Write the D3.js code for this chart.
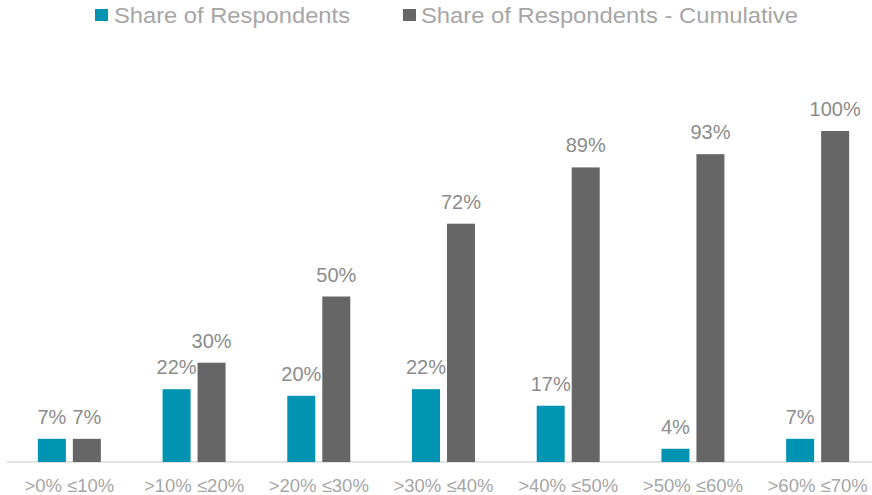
<!DOCTYPE html>
<html><head><meta charset="utf-8">
<script src="https://cdn.jsdelivr.net/npm/d3@7"></script>
<style>body{margin:0;background:#fff}svg{display:block}text{font-family:"Liberation Sans",Arial,sans-serif}</style>
</head><body>
<svg id="chart" width="872" height="495"></svg>
<script>
const categories = [">0% ≤10%", ">10% ≤20%", ">20% ≤30%", ">30% ≤40%", ">40% ≤50%", ">50% ≤60%", ">60% ≤70%"];
const shareValues = [7, 22, 20, 22, 17, 4, 7];
const cumulativeValues = [7, 30, 50, 72, 89, 93, 100];
const seriesNames = ["Share of Respondents", "Share of Respondents - Cumulative"];
const colors = ["#0093B2", "#666666"];

const svg = d3.select("#chart");
const x = d3.scaleBand().domain(categories).range([7, 880]).padding(0);
const y = d3.scaleLinear().domain([0, 100]).range([462, 131]);
const inner = d3.scaleBand().domain([0, 1]).range([-31.5, 31.5]).paddingInner(0.2);

// axis line
svg.append("line").attr("x1", 7).attr("x2", 872).attr("y1", y(0)).attr("y2", y(0))
  .attr("stroke", "#d9d9d9").attr("stroke-width", 1.5);

const series = [shareValues, cumulativeValues];
series.forEach((vals, si) => {
  const g = svg.append("g");
  g.selectAll("rect").data(vals).join("rect")
    .attr("x", (d, i) => x(categories[i]) + x.bandwidth() / 2 + inner(si))
    .attr("width", inner.bandwidth())
    .attr("y", d => y(d))
    .attr("height", d => y(0) - y(d))
    .attr("fill", colors[si]);
  g.selectAll("text").data(vals).join("text")
    .attr("x", (d, i) => x(categories[i]) + x.bandwidth() / 2 + inner(si) + inner.bandwidth() / 2)
    .attr("y", d => y(d) - 15)
    .attr("text-anchor", "middle")
    .attr("font-size", 20)
    .attr("fill", "#8c8c8c")
    .text(d => d + "%");
});

// category labels
svg.append("g").selectAll("text").data(categories).join("text")
  .attr("x", d => x(d) + x.bandwidth() / 2)
  .attr("y", 492)
  .attr("text-anchor", "middle")
  .attr("font-size", 18.5)
  .attr("fill", "#a6a6a6")
  .text(d => d);

// legend
const legendItems = [
  {name: seriesNames[0], color: colors[0], mx: 95, tx: 114, w: 236},
  {name: seriesNames[1], color: colors[1], mx: 403, tx: 421, w: 377}
];
const lg = svg.append("g");
legendItems.forEach(it => {
  lg.append("rect").attr("x", it.mx).attr("y", 9).attr("width", 13).attr("height", 12).attr("fill", it.color);
  lg.append("text").attr("x", it.tx).attr("y", 23).attr("font-size", 22)
    .attr("fill", "#a6a6a6").attr("textLength", it.w).attr("lengthAdjust", "spacingAndGlyphs")
    .text(it.name);
});
</script>
</body></html>
